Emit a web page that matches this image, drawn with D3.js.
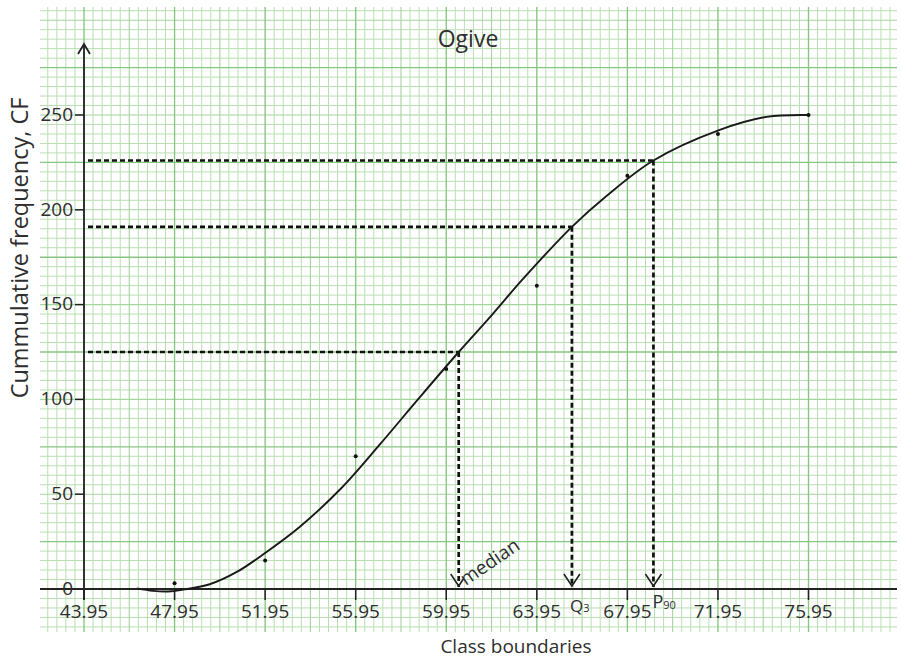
<!DOCTYPE html>
<html>
<head>
<meta charset="utf-8">
<script src="https://cdn.jsdelivr.net/npm/d3@7"></script>
<style>
  html, body { margin: 0; padding: 0; background: #ffffff; }
  svg { display: block; }
  text { font-family: "Open Sans", "Noto Sans", sans-serif; fill: #2e2e2e; }
</style>
</head>
<body>
<svg id="chart" width="901" height="658"></svg>
<script>
// ---------------- data ----------------
const xTickValues = [43.95, 47.95, 51.95, 55.95, 59.95, 63.95, 67.95, 71.95, 75.95];
const xTickLabels = ["43.95", "47.95", "51.95", "55.95", "59.95", "63.95", "67.95", "71.95", "75.95"];
const yTickValues = [0, 50, 100, 150, 200, 250];
const yTickLabels = ["0", "50", "100", "150", "200", "250"];

// plotted points (upper class boundary, cumulative frequency)
const classBoundaries = [47.95, 51.95, 55.95, 59.95, 63.95, 67.95, 71.95, 75.95];
const cumFreq = [3, 15, 70, 116, 160, 218, 240, 250];

// hand-drawn smooth ogive
const curveX = [46.3, 47.0, 47.8, 48.5, 49.5, 50.7, 51.95, 53.5, 55.3, 57.0, 58.7, 60.5, 62.0, 63.3, 65.5, 67.0, 69.1, 72.0, 74.1, 75.95];
const curveY = [0.3, -1.0, -1.2, 0, 2.5, 9, 19, 33, 53, 76, 100, 125, 145, 163, 191, 207, 226, 242, 249, 250];

// read-off lines
const markerNames = ["median", "Q3", "P90"];
const markerCF = [125, 191, 226];
const markerX = [60.5, 65.5, 69.1];

// ---------------- layout ----------------
const svg = d3.select("#chart");
const x = d3.scaleLinear().domain([43.95, 75.95]).range([84, 808.5]);
const y = d3.scaleLinear().domain([0, 250]).range([589, 115]);
const paper = { left: 40, right: 897, top: 7, bottom: 632 };

// ---------------- graph paper ----------------
svg.append("defs").append("clipPath").attr("id", "paperClip")
  .append("rect")
  .attr("x", paper.left).attr("y", paper.top)
  .attr("width", paper.right - paper.left).attr("height", paper.bottom - paper.top);

const grid = svg.append("g").attr("clip-path", "url(#paperClip)");
const xStep = 0.4, yStep = 5;
const xLo = Math.floor((x.invert(paper.left) - 43.95) / xStep) - 1;
const xHi = Math.ceil((x.invert(paper.right) - 43.95) / xStep) + 1;
const yLo = Math.floor(y.invert(paper.bottom) / yStep) - 1;
const yHi = Math.ceil(y.invert(paper.top) / yStep) + 1;

function level(i) { return (((i % 10) + 10) % 10 === 0) ? 2 : ((((i % 5) + 5) % 5 === 0) ? 1 : 0); }
const gStroke = ["#b9dfb2", "#a3d59c", "#88c581"];
const gWidth = [1.0, 1.1, 1.35];

const vIdx = d3.range(xLo, xHi + 1);
const hIdx = d3.range(yLo, yHi + 1);
[0, 1, 2].forEach(lv => {
  grid.selectAll(null).data(vIdx.filter(i => level(i) === lv)).enter().append("line")
    .attr("x1", i => x(43.95 + i * xStep)).attr("x2", i => x(43.95 + i * xStep))
    .attr("y1", paper.top).attr("y2", paper.bottom)
    .attr("stroke", gStroke[lv]).attr("stroke-width", gWidth[lv]);
  // horizontal majors fall on 25, 75, 125 ... (offset of 5 small cells)
  grid.selectAll(null).data(hIdx.filter(i => level(i - 5) === lv)).enter().append("line")
    .attr("y1", i => y(i * yStep)).attr("y2", i => y(i * yStep))
    .attr("x1", paper.left).attr("x2", paper.right)
    .attr("stroke", gStroke[lv]).attr("stroke-width", gWidth[lv]);
});

// ---------------- axes ----------------
const axisG = svg.append("g").attr("stroke", "#222").attr("fill", "none");
axisG.append("line")
  .attr("x1", paper.left).attr("x2", paper.right)
  .attr("y1", y(0)).attr("y2", y(0)).attr("stroke-width", 1.8);
axisG.append("line")
  .attr("x1", x(43.95)).attr("x2", x(43.95))
  .attr("y1", y(0) + 11).attr("y2", 44).attr("stroke-width", 1.8);
axisG.append("path")
  .attr("d", `M${x(43.95) - 6},${54} L${x(43.95)},${44} L${x(43.95) + 6},${54}`)
  .attr("stroke-width", 1.8);

// x ticks
svg.append("g").selectAll("line").data(xTickValues).enter().append("line")
  .attr("x1", d => x(d)).attr("x2", d => x(d))
  .attr("y1", y(0)).attr("y2", y(0) + 11)
  .attr("stroke", "#222").attr("stroke-width", 1.5);
svg.append("g").selectAll("text").data(xTickValues).enter().append("text")
  .attr("x", d => x(d)).attr("y", y(0) + 29)
  .attr("text-anchor", "middle").attr("font-size", 19)
  .text((d, i) => xTickLabels[i]);

// y ticks
svg.append("g").selectAll("line").data(yTickValues).enter().append("line")
  .attr("x1", x(43.95) - 9).attr("x2", x(43.95))
  .attr("y1", d => y(d)).attr("y2", d => y(d))
  .attr("stroke", "#222").attr("stroke-width", 1.5);
svg.append("g").selectAll("text").data(yTickValues).enter().append("text")
  .attr("x", x(43.95) - 11).attr("y", d => y(d))
  .attr("dy", "0.3em")
  .attr("text-anchor", "end").attr("font-size", 19)
  .text((d, i) => yTickLabels[i]);

// ---------------- read-off dashed lines ----------------
const dash = svg.append("g").attr("stroke", "#111").attr("fill", "none")
  .attr("stroke-width", 2.7).attr("stroke-dasharray", "5,3");
markerCF.forEach((cf, i) => {
  dash.append("line")
    .attr("x1", x(43.95) + 4).attr("x2", x(markerX[i]))
    .attr("y1", y(cf)).attr("y2", y(cf));
  dash.append("line")
    .attr("x1", x(markerX[i])).attr("x2", x(markerX[i]))
    .attr("y1", y(cf)).attr("y2", y(0) - 2);
});
// arrow heads
const heads = svg.append("g").attr("stroke", "#222").attr("fill", "none").attr("stroke-width", 1.6);
markerX.forEach((mx, i) => {
  const cx = x(mx), cy = y(0) - 3;
  const rightLen = i === 0 ? 0.6 : 1;
  heads.append("path")
    .attr("d", `M${cx - 8},${cy - 12} L${cx},${cy} L${cx + 8 * rightLen},${cy - 12 * rightLen}`);
});

// ---------------- ogive curve & points ----------------
const curvePts = curveX.map((d, i) => [d, curveY[i]]);
svg.append("path")
  .datum(curvePts)
  .attr("fill", "none").attr("stroke", "#1a1a1a").attr("stroke-width", 1.9)
  .attr("d", d3.line().x(d => x(d[0])).y(d => y(d[1])).curve(d3.curveCatmullRom.alpha(0.5)));

svg.append("g").selectAll("circle").data(classBoundaries).enter().append("circle")
  .attr("cx", d => x(d)).attr("cy", (d, i) => y(cumFreq[i]))
  .attr("r", 2).attr("fill", "#111");

// ---------------- labels ----------------
svg.append("text").attr("x", 468).attr("y", 47)
  .attr("text-anchor", "middle").attr("font-size", 23).text("Ogive");

svg.append("text").attr("x", 516).attr("y", 653)
  .attr("text-anchor", "middle").attr("font-size", 19).text("Class boundaries");

svg.append("text")
  .attr("transform", "translate(28,248) rotate(-90)")
  .attr("text-anchor", "middle").attr("font-size", 23.5)
  .text("Cummulative frequency, CF");

// marker labels
svg.append("text")
  .attr("transform", `translate(${x(markerX[0]) + 7},${y(0) - 3}) rotate(-34)`)
  .attr("font-size", 19).text(markerNames[0]);

const q3 = svg.append("text").attr("x", x(markerX[1]) - 2).attr("y", y(0) + 23).attr("font-size", 17);
q3.append("tspan").text("Q");
q3.append("tspan").attr("font-size", 11).text("3");

const p90 = svg.append("text").attr("x", x(markerX[2]) - 1).attr("y", y(0) + 19).attr("font-size", 18);
p90.append("tspan").text("P");
p90.append("tspan").attr("font-size", 11).attr("dy", 1).text("90");
</script>
</body>
</html>
